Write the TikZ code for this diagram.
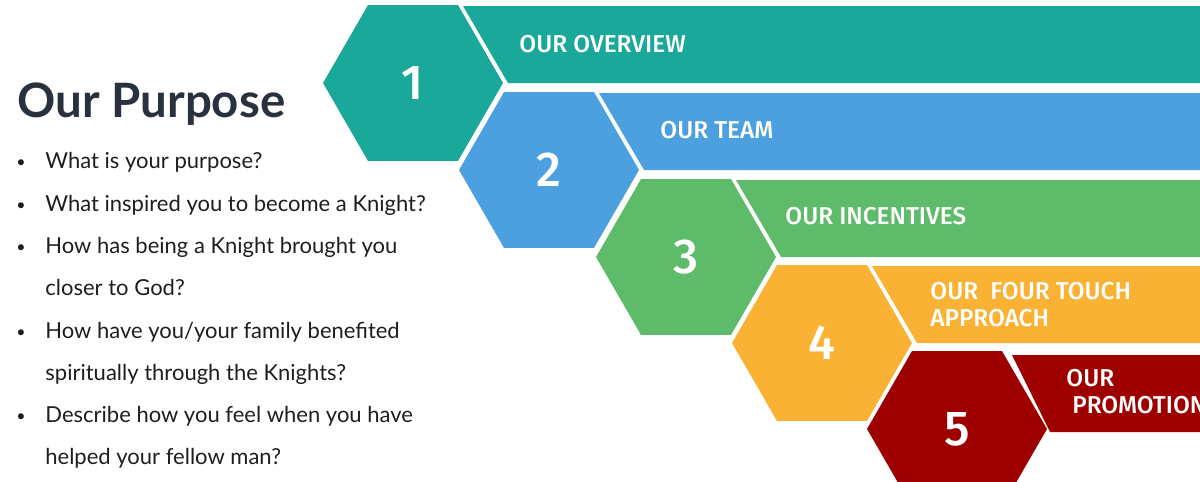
\documentclass[tikz,border=0pt]{standalone}
\usepackage{fontspec}
\usepackage{tikz}
\usetikzlibrary{calc}
\usetikzlibrary{shapes.geometric}
\setmainfont{Lato}
\newfontfamily\bandfont{Fira Sans Medium}
\definecolor{ourteal}{RGB}{26,168,154}
\definecolor{ourblue}{RGB}{76,160,223}
\definecolor{ourgreen}{RGB}{94,187,106}
\definecolor{ourorange}{RGB}{249,178,52}
\definecolor{ourred}{RGB}{158,0,0}
\definecolor{titlegray}{RGB}{42,49,62}
\definecolor{bodygray}{RGB}{30,30,30}
\tikzset{
    % numbered hexagon
    hexa/.style={
        regular polygon,
        regular polygon sides=6,
        minimum size=90pt,
        inner sep=0pt,
        outer sep=0pt,
        text=white,
        font=\bandfont\fontsize{24.5}{24.5}\selectfont
    },
    % white caption on a band
    bandtext/.style={
        anchor=west,
        inner sep=0pt,
        align=left,
        text=white,
        font=\bandfont\fontsize{12.2}{13.5}\selectfont
    },
    qtext/.style={anchor=base west, inner sep=0pt, text=bodygray,
        font=\fontsize{11}{12}\selectfont},
    dot/.style={anchor=base, inner sep=0pt, text=bodygray,
        font=\fontsize{8}{12}\selectfont}
}

\begin{document}
\begin{tikzpicture}[x=0.5pt,y=-0.5pt]
    \useasboundingbox (0,0) rectangle (1200,482);
    \clip (0,0) rectangle (1200,482);
    % hexagons
    \node[hexa, fill=ourteal] (h1) at (413,83) {1};
    \node[hexa, fill=ourblue] (h2) at (549,170) {2};
    \node[hexa, fill=ourgreen] (h3) at (686,257) {3};
    \node[hexa, fill=ourorange] (h4) at (822,343) {4};
    \node[hexa, fill=ourred] (h5) at (957,429) {5};
    % bands
    \fill[ourteal] ($(h1.center)+(50,-77)$) -- ++(900,0) |- ($(h1.center)+(95,0)$) -- cycle;
    \fill[ourblue] ($(h2.center)+(50,-77)$) -- ++(900,0) |- ($(h2.center)+(95,0)$) -- cycle;
    \fill[ourgreen] ($(h3.center)+(50,-77)$) -- ++(900,0) |- ($(h3.center)+(95,0)$) -- cycle;
    \fill[ourorange] ($(h4.center)+(50,-77)$) -- ++(900,0) |- ($(h4.center)+(95,0)$) -- cycle;
    \fill[ourred] ($(h5.center)+(55,-74)$) -- ++(900,0) |- ($(h5.center)+(93,3)$) -- cycle;
    \node[bandtext] (t1) at (519,44) {OUR OVERVIEW};
    \node[bandtext] (t2) at (660,130) {OUR TEAM};
    \node[bandtext] (t3) at (785,216) {OUR INCENTIVES};
    \node[bandtext] (t4) at (930,304.5) {OUR\ \ FOUR TOUCH\\APPROACH};
    \node[bandtext] (t5) at (1066,391.5) {OUR\\\hspace{3pt}PROMOTION};
    % left column
    \node[anchor=base west, inner sep=0pt, text=titlegray,
        font=\fontsize{23.7}{24}\selectfont\bfseries] (title) at (17,117) {Our Purpose};
    \node[dot] (d1) at (21,167) {•};
    \node[qtext] (q1) at (45,168) {What is your purpose?};
    \node[dot] (d2) at (21,210) {•};
    \node[qtext] (q2) at (45,211) {What inspired you to become a Knight?};
    \node[dot] (d3) at (21,252) {•};
    \node[qtext] (q3) at (45,253) {How has being a Knight brought you};
    \node[qtext] (q3b) at (45,295) {closer to God?};
    \node[dot] (d4) at (21,337) {•};
    \node[qtext] (q4) at (45,338) {How have you/your family benefited};
    \node[qtext] (q4b) at (45,380) {spiritually through the Knights?};
    \node[dot] (d5) at (21,421) {•};
    \node[qtext] (q5) at (45,422) {Describe how you feel when you have};
    \node[qtext] (q5b) at (45,464) {helped your fellow man?};
\end{tikzpicture}
\end{document}
